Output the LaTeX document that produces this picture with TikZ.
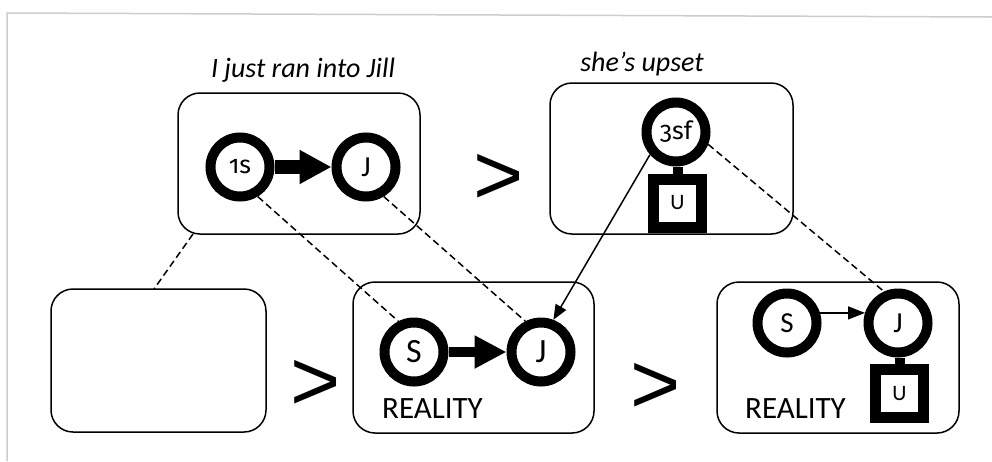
\documentclass[tikz,border=0pt]{standalone}
\usepackage{fontspec}
\setmainfont{Carlito}
\newfontfamily\gtfont{Liberation Sans}
\newfontfamily\numfont{Fira Sans}[Numbers=OldStyle]
\usetikzlibrary{arrows.meta}
\definecolor{framegrey}{RGB}{205,205,205}
\begin{document}
\begin{tikzpicture}[x=1pt,y=-1pt,
  box/.style={draw, line width=1.5pt, rounded corners=22pt, inner sep=0pt},
  ring/.style={circle, draw, line width=10pt, minimum size=59pt, inner sep=0pt},
  sqbox/.style={rectangle, draw, line width=11pt, minimum size=48pt, inner sep=0pt, font=\fontsize{22}{24}\selectfont},
  stem/.style={line width=10pt},
  dashln/.style={line width=1.5pt, dash pattern=on 7pt off 4pt},
  thinarr/.style={line width=1.5pt, -{Triangle[length=17pt,width=13pt]}},
  bigtxt/.style={font=\gtfont\fontsize{86}{90}\selectfont, inner sep=0pt},
  captxt/.style={font=\fontsize{28}{30}\selectfont\itshape, anchor=base, inner sep=0pt},
  realtxt/.style={font=\fontsize{31}{33}\selectfont, anchor=base west, inner sep=0pt},
  small/.style={font=\fontsize{29}{31}\selectfont},
  numlab/.style={font=\numfont\fontsize{25}{27}\selectfont},
  large/.style={font=\fontsize{34}{36}\selectfont},
  mid/.style={font=\fontsize{29}{31}\selectfont}
]
\useasboundingbox (0,0) rectangle (992,461);
\draw[framegrey, line width=1.5pt] (7,461) -- (7,13) -- (992,17);

% boxes
\node[box, minimum width=242pt, minimum height=141pt] (tl) at (299,163.5) {};
\node[box, minimum width=243pt, minimum height=151pt] (tr) at (671.5,158.5) {};
\node[box, minimum width=215pt, minimum height=143pt] (bl) at (158.5,360.5) {};
\node[box, minimum width=241pt, minimum height=151pt] (bm) at (473.5,357.5) {};
\node[box, minimum width=242pt, minimum height=151pt] (br) at (838,357.5) {};

% captions
\node[captxt] (cap1) at (303,77) {I just ran into Jill};
\node[captxt] (cap2) at (642,71) {she’s upset};

% greater-than signs
\node[bigtxt] (gt1) at (499,179) {>};
\node[bigtxt] (gt2) at (316,385) {>};
\node[bigtxt] (gt3) at (656,388) {>};

% top-left box
\node[ring, numlab] (c1s) at (240,167) {1s};
\node[ring, small] (cJ1) at (366,167) {J};
\draw[line width=14pt, -{Triangle[length=32pt,width=32pt]}] (c1s.east) -- (cJ1.west);

% top-right box
\node[ring, numlab] (c3sf) at (676,132) {3sf};
\node[sqbox] (sq1) at (677.5,203) {U};
\draw[stem] (sq1.north) -- (sq1.north |- c3sf.south);

% middle reality box
\node[ring, large] (cS2) at (414,352) {S};
\node[ring, large] (cJ2) at (541,352) {J};
\draw[line width=10.5pt, -{Triangle[length=32pt,width=31pt]}] (cS2.east) -- (cJ2.west);
\node[realtxt] (real1) at (382,418) {REALITY};

% right reality box
\node[ring, mid] (cS3) at (787,323) {S};
\node[ring, mid] (cJ3) at (898,323) {J};
\draw[thinarr] (cS3.17) -- (cJ3.163);
\node[sqbox] (sq2) at (899.5,393.5) {U};
\draw[stem] (sq2.north) -- (sq2.north |- cJ3.south);
\node[realtxt] (real2) at (745,418) {REALITY};

% connectors
\coordinate (d1) at (193,234);
\coordinate (d2) at (154,289);
\draw[dashln] (d1) -- (d2);
\draw[dashln] (c1s.-59) -- (cS2.117);
\draw[dashln] (cJ1.-59) -- (cJ2.117);
\draw[dashln] (c3sf.-21) -- (cJ3.114);
\draw[line width=1.5pt, -{Triangle[length=15pt,width=12pt]}] (c3sf.-139) -- (cJ2.69);
\end{tikzpicture}
\end{document}
